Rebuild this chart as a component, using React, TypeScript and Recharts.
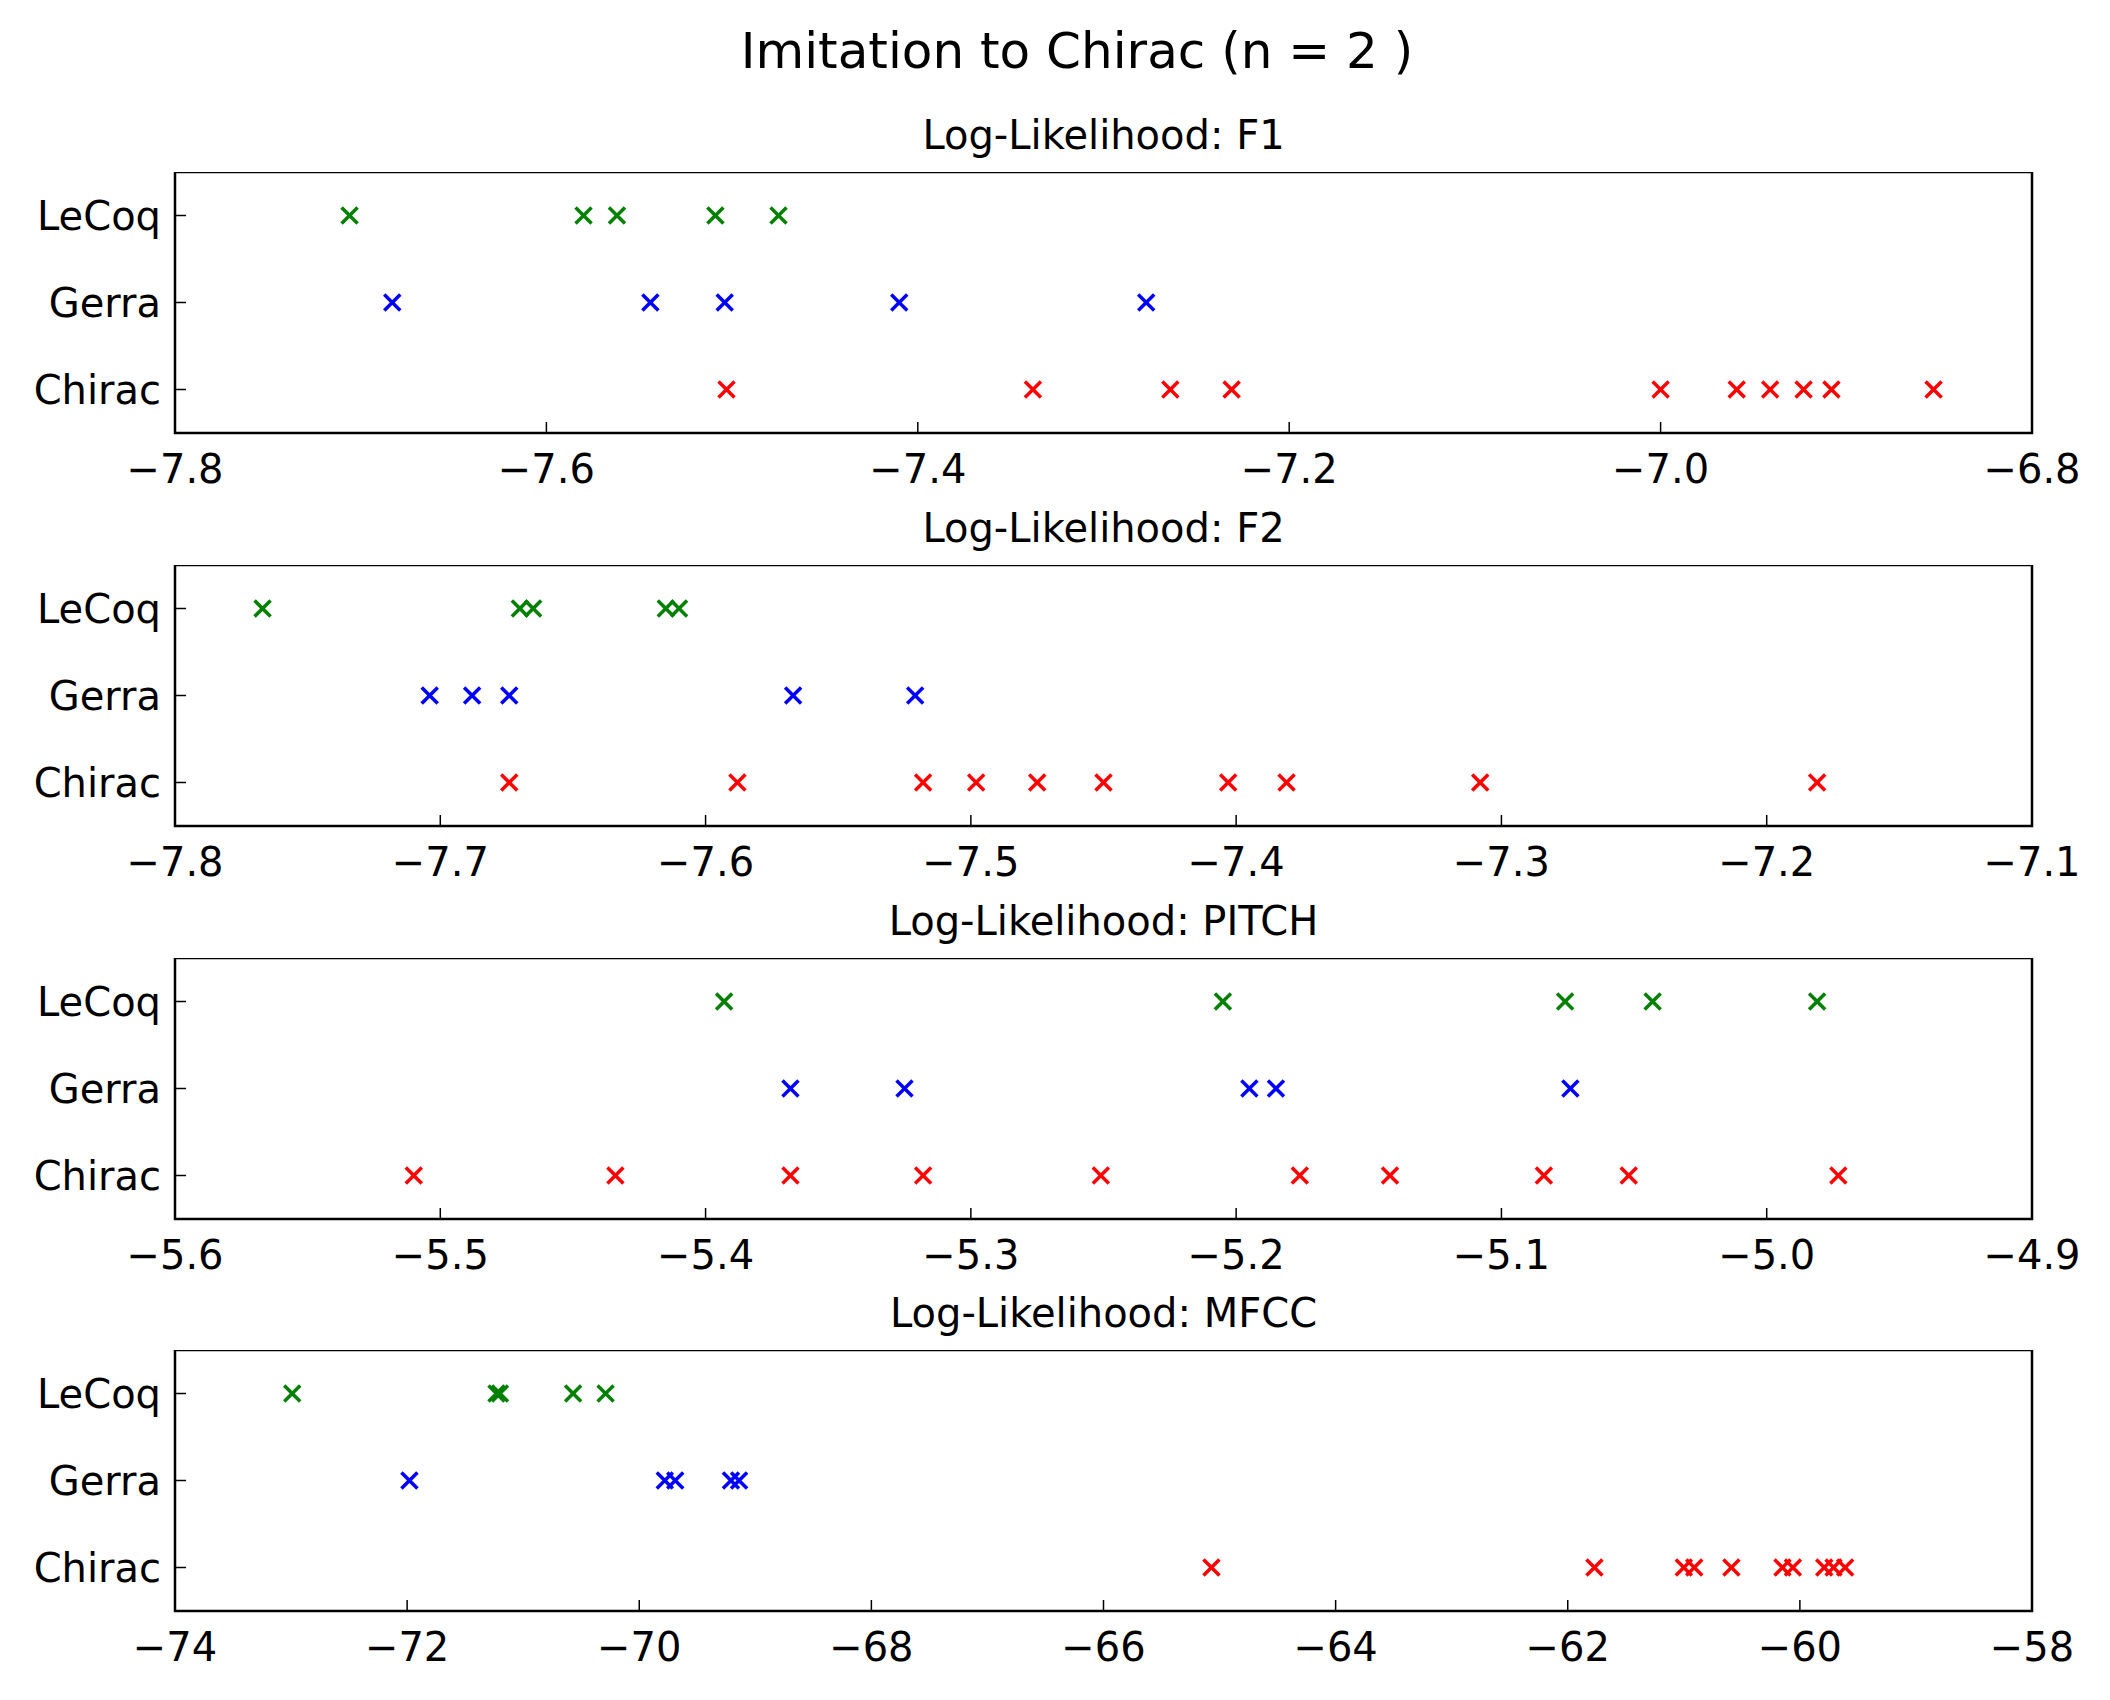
import React from "react";
import { ScatterChart, Scatter, XAxis, YAxis, ReferenceArea } from "recharts";

// rows: 0 = Chirac, 1 = Gerra, 2 = LeCoq
const rowLabels = ["Chirac", "Gerra", "LeCoq"];

const f1LeCoq = [-7.706, -7.58, -7.562, -7.509, -7.475];
const f1Gerra = [-7.683, -7.544, -7.504, -7.41, -7.277];
const f1Chirac = [-7.503, -7.338, -7.264, -7.231, -7.0, -6.959, -6.941, -6.923, -6.908, -6.853];
const f1Ticks = [-7.8, -7.6, -7.4, -7.2, -7.0, -6.8];

const f2LeCoq = [-7.767, -7.67, -7.665, -7.615, -7.61];
const f2Gerra = [-7.704, -7.688, -7.674, -7.567, -7.521];
const f2Chirac = [-7.674, -7.588, -7.518, -7.498, -7.475, -7.45, -7.403, -7.381, -7.308, -7.181];
const f2Ticks = [-7.8, -7.7, -7.6, -7.5, -7.4, -7.3, -7.2, -7.1];

const pitchLeCoq = [-5.393, -5.205, -5.076, -5.043, -4.981];
const pitchGerra = [-5.368, -5.325, -5.195, -5.185, -5.074];
const pitchChirac = [-5.51, -5.434, -5.368, -5.318, -5.251, -5.176, -5.142, -5.084, -5.052, -4.973];
const pitchTicks = [-5.6, -5.5, -5.4, -5.3, -5.2, -5.1, -5.0, -4.9];

const mfccLeCoq = [-72.99, -71.23, -71.2, -70.57, -70.29];
const mfccGerra = [-71.98, -69.78, -69.69, -69.21, -69.14];
const mfccChirac = [-65.07, -61.77, -61.0, -60.91, -60.59, -60.15, -60.06, -59.79, -59.71, -59.61];
const mfccTicks = [-74, -72, -70, -68, -66, -64, -62, -60, -58];

const FONT = "DejaVu Sans, sans-serif";
const PLOT_LEFT = 175;
const PLOT_RIGHT = 2032;
const PLOT_H = 261;
const TICK = 11;
const FS = 40;

const fmt = (v: number) => {
  const s = Number.isInteger(v) && Math.abs(v) >= 10 ? String(v) : v.toFixed(1);
  return s.replace("-", "\u2212");
};

const XMark = (color: string) => (props: any) => {
  const { cx, cy } = props;
  const h = 8;
  return (
    <g stroke={color} strokeWidth={3.5}>
      <line x1={cx - h} y1={cy - h} x2={cx + h} y2={cy + h} />
      <line x1={cx - h} y1={cy + h} x2={cx + h} y2={cy - h} />
    </g>
  );
};

const toPts = (xs: number[], row: number) => xs.map((x) => ({ x, y: row }));

const BottomTick = (p: any) => (
  <g>
    <line x1={p.x} y1={p.y} x2={p.x} y2={p.y - TICK} stroke="#000" strokeWidth={1.5} />
    <text x={p.x} y={p.y + 50} textAnchor="middle" fontSize={FS} fontFamily={FONT} fill="#000">
      {fmt(p.payload.value)}
    </text>
  </g>
);
const TopTick = (p: any) => (
  <line x1={p.x} y1={p.y} x2={p.x} y2={p.y + TICK} stroke="#000" strokeWidth={1.5} />
);
const LeftTick = (p: any) => (
  <g>
    <line x1={p.x} y1={p.y} x2={p.x + TICK} y2={p.y} stroke="#000" strokeWidth={1.5} />
    <text x={p.x - 14} y={p.y + 14} textAnchor="end" fontSize={FS} fontFamily={FONT} fill="#000">
      {rowLabels[p.payload.value]}
    </text>
  </g>
);
const RightTick = (p: any) => (
  <line x1={p.x} y1={p.y} x2={p.x - TICK} y2={p.y} stroke="#000" strokeWidth={1.5} />
);

function Panel({ top, title, lecoq, gerra, chirac, ticks }: any) {
  const lo = ticks[0];
  const hi = ticks[ticks.length - 1];
  return (
    <>
      <div
        style={{
          position: "absolute",
          top: top - 60,
          left: (PLOT_LEFT + PLOT_RIGHT) / 2,
          transform: "translateX(-50%)",
          fontFamily: FONT,
          fontSize: 40,
          whiteSpace: "nowrap",
        }}
      >
        {title}
      </div>
      <div style={{ position: "absolute", top: top, left: 0 }}>
        <ScatterChart
          width={2110}
          height={PLOT_H + 70}
          margin={{ top: 0, right: 0, bottom: 0, left: 0 }}
        >
          <XAxis
            xAxisId="b"
            type="number"
            dataKey="x"
            domain={[lo, hi]}
            ticks={ticks}
            interval={0}
            allowDataOverflow
            height={70}
            axisLine={false}
            tickLine={false}
            tickSize={0}
            tickMargin={0}
            tick={BottomTick}
          />
          <XAxis
            xAxisId="t"
            orientation="top"
            type="number"
            dataKey="x"
            domain={[lo, hi]}
            ticks={ticks}
            interval={0}
            allowDataOverflow
            height={0}
            axisLine={false}
            tickLine={false}
            tickSize={0}
            tickMargin={0}
            tick={TopTick}
          />
          <YAxis
            yAxisId="l"
            type="number"
            dataKey="y"
            domain={[-0.5, 2.5]}
            ticks={[0, 1, 2]}
            width={PLOT_LEFT}
            axisLine={false}
            tickLine={false}
            tickSize={0}
            tickMargin={0}
            tick={LeftTick}
          />
          <YAxis
            yAxisId="r"
            orientation="right"
            type="number"
            dataKey="y"
            domain={[-0.5, 2.5]}
            ticks={[0, 1, 2]}
            width={2110 - PLOT_RIGHT}
            axisLine={false}
            tickLine={false}
            tickSize={0}
            tickMargin={0}
            tick={RightTick}
          />
          <ReferenceArea
            xAxisId="b"
            yAxisId="l"
            x1={lo}
            x2={hi}
            y1={-0.5}
            y2={2.5}
            fill="none"
            fillOpacity={0}
            stroke="#000"
            strokeWidth={2.5}
            strokeOpacity={1}
            ifOverflow="visible"
          />
          <Scatter xAxisId="b" yAxisId="l" data={toPts(lecoq, 2)} shape={XMark("#008000")} isAnimationActive={false} />
          <Scatter xAxisId="b" yAxisId="l" data={toPts(gerra, 1)} shape={XMark("#0000ff")} isAnimationActive={false} />
          <Scatter xAxisId="b" yAxisId="l" data={toPts(chirac, 0)} shape={XMark("#ff0000")} isAnimationActive={false} />
        </ScatterChart>
      </div>
    </>
  );
}

export default function App() {
  return (
    <div style={{ position: "absolute", top: 0, left: 0, width: 2110, height: 1700, background: "#fff" }}>
      <div
        style={{
          position: "absolute",
          top: 22,
          left: 1077,
          transform: "translateX(-50%)",
          fontFamily: FONT,
          fontSize: 50,
          whiteSpace: "nowrap",
        }}
      >
        Imitation to Chirac (n = 2 )
      </div>
      <Panel top={172} title="Log-Likelihood: F1" lecoq={f1LeCoq} gerra={f1Gerra} chirac={f1Chirac} ticks={f1Ticks} />
      <Panel top={565} title="Log-Likelihood: F2" lecoq={f2LeCoq} gerra={f2Gerra} chirac={f2Chirac} ticks={f2Ticks} />
      <Panel top={958} title="Log-Likelihood: PITCH" lecoq={pitchLeCoq} gerra={pitchGerra} chirac={pitchChirac} ticks={pitchTicks} />
      <Panel top={1350} title="Log-Likelihood: MFCC" lecoq={mfccLeCoq} gerra={mfccGerra} chirac={mfccChirac} ticks={mfccTicks} />
    </div>
  );
}
